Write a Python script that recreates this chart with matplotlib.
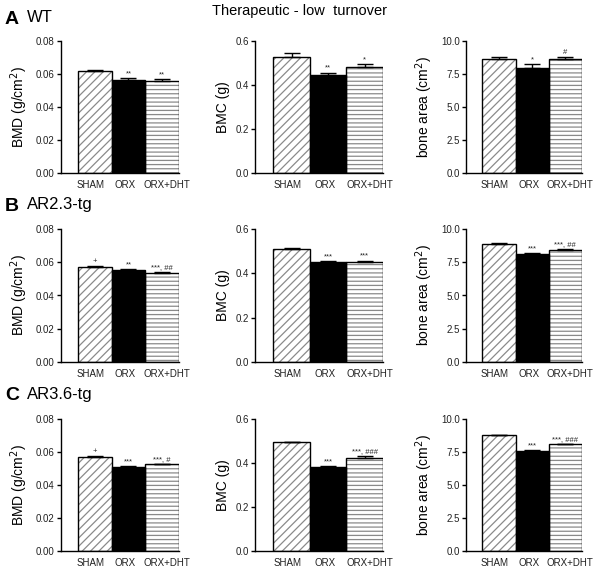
import matplotlib
matplotlib.use("Agg")
import matplotlib.pyplot as plt
from matplotlib.transforms import ScaledTranslation

plt.rcParams['font.family'] = ['Liberation Sans', 'DejaVu Sans']
plt.rcParams['hatch.linewidth'] = 0.9

groups = ["SHAM", "ORX", "ORX+DHT"]
rows = ["WT", "AR2.3-tg", "AR3.6-tg"]
letters = ["A", "B", "C"]

bmd_vals = [[0.0614, 0.0562, 0.0556], [0.0572, 0.0556, 0.0536], [0.0570, 0.0510, 0.0524]]
bmd_err = [[0.0008, 0.0010, 0.0009], [0.0004, 0.0003, 0.0008], [0.0004, 0.0004, 0.0004]]
bmc_vals = [[0.526, 0.443, 0.480], [0.509, 0.451, 0.450], [0.493, 0.380, 0.421]]
bmc_err = [[0.016, 0.012, 0.012], [0.004, 0.004, 0.008], [0.003, 0.004, 0.009]]
area_vals = [[8.58, 7.92, 8.62], [8.88, 8.12, 8.46], [8.76, 7.58, 8.07]]
area_err = [[0.18, 0.30, 0.15], [0.05, 0.06, 0.06], [0.05, 0.06, 0.06]]

bmd_sig = [["", "**", "**"], ["+", "**", "***, ##"], ["+", "***", "***, #"]]
bmc_sig = [["", "**", "*"], ["", "***", "***"], ["", "***", "***, ###"]]
area_sig = [["", "*", "#"], ["", "***", "***, ##"], ["", "***", "***, ###"]]

measures = [
    ("BMD (g/cm$^2$)", bmd_vals, bmd_err, bmd_sig, 0.08, [0.00, 0.02, 0.04, 0.06, 0.08], "{:.2f}"),
    ("BMC (g)", bmc_vals, bmc_err, bmc_sig, 0.6, [0.0, 0.2, 0.4, 0.6], "{:.1f}"),
    ("bone area (cm$^2$)", area_vals, area_err, area_sig, 10.0, [0.0, 2.5, 5.0, 7.5, 10.0], "{:.1f}"),
]

W, H = 600, 569
fig = plt.figure(figsize=(W / 100, H / 100), dpi=100)

row_px = [(40.7, 172.7), (229.3, 361.7), (419.0, 550.7)]
col_px = [(61, 179), (255, 383), (466, 581.5)]

hatches = ["////", None, "----"]
xs = [0, 1, 2]
label_shift = [-4, -3, 5]  # px, horizontal nudge of the group labels

for r in range(3):
    for c in range(3):
        label, vals, errs, sigs, ymax, ticks, fmt = measures[c]
        x0, x1 = col_px[c]
        yt, yb = row_px[r]
        ax = fig.add_axes([x0 / W, 1 - yb / H, (x1 - x0) / W, (yb - yt) / H])
        v = vals[r]
        e = errs[r]
        for i in range(3):
            if hatches[i]:
                ax.bar(xs[i], v[i], width=1.0, color="white", edgecolor="#8a8a8a",
                       hatch=hatches[i], linewidth=0, zorder=2)
                ax.bar(xs[i], v[i], width=1.0, facecolor="none", edgecolor="black",
                       linewidth=1.0, zorder=3)
            else:
                ax.bar(xs[i], v[i], width=1.0, color="black", edgecolor="black",
                       linewidth=1.0, zorder=3)
        ax.errorbar(xs, v, yerr=[[0, 0, 0], e], fmt="none", ecolor="black",
                    elinewidth=1.0, capsize=6, capthick=1.0, zorder=4)
        for i in range(3):
            if sigs[r][i]:
                ax.text(xs[i], v[i] + e[i] + ymax * 0.008, sigs[r][i], ha="center",
                        va="bottom", fontsize=5.5, color="#222222")
        ax.set_xlim(-1.0, 2.5)
        ax.set_ylim(0, ymax)
        ax.set_yticks(ticks)
        ax.set_yticklabels([fmt.format(t) for t in ticks])
        ax.set_xticks(xs)
        ax.set_xticklabels(groups)
        ax.tick_params(axis="x", length=0, labelsize=7, pad=5, colors="#222222")
        ax.tick_params(axis="y", length=3, width=1, labelsize=7, pad=1.5, colors="#222222")
        ax.tick_params(axis="both", color="black")
        for lab, dx in zip(ax.get_xticklabels(), label_shift):
            lab.set_transform(lab.get_transform() + ScaledTranslation(dx / 100, 0, fig.dpi_scale_trans))
        for s in ["top", "right"]:
            ax.spines[s].set_visible(False)
        for s in ["left", "bottom"]:
            ax.spines[s].set_linewidth(1.0)
        ax.set_ylabel(label, fontsize=10, labelpad=4)

fig.text(300 / W, 1 - 11 / H, "Therapeutic - low  turnover", ha="center", va="center", fontsize=10.5)
letter_y = [19, 206, 396]
for r in range(3):
    fig.text(5 / W, 1 - letter_y[r] / H, letters[r], ha="left", va="center",
             fontsize=14, fontweight="bold")
    fig.text(27 / W, 1 - (letter_y[r] - 1) / H, rows[r], ha="left", va="center", fontsize=12)

fig.savefig("out.png", dpi=100)
